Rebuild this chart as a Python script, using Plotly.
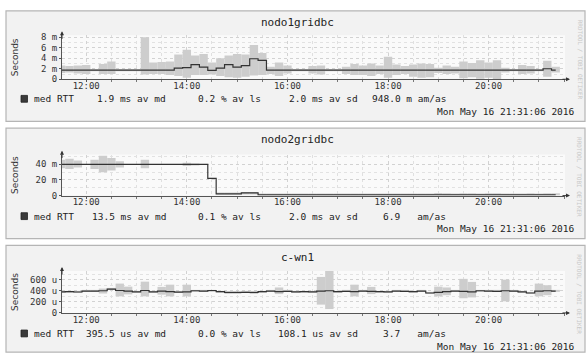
import plotly.graph_objects as go
import pandas as pd

W, H = 587, 359

# ---------------- data ----------------
# 10-minute bins (centres), 11:30 .. 21:30
times = pd.date_range("2016-05-16 11:30", periods=61, freq="10min")
t_start, t_end = "2016-05-16 11:31:06", "2016-05-16 21:31:06"

titles = ["nodo1gridbc", "nodo2gridbc", "c-wn1"]

# panel 1 (ms)
p1_med = [1.75]*14 + [2.1, 2.2, 2.8, 2.3, 1.7, 2.1, 2.8, 2.3, 2.6, 3.9, 3.6] + [1.75]*33 + [2.0, 1.75, None]
p1_lo = [1.2, 1.3, 1.1, 1.0, 1.7, 1.0, 1.0, 1.7, 1.7, 1.7, 0.9, 1.0, 1.0, 0.8, 0.6, 0.3, 0.8, 0.8, 0.9, 0.6,
         0.4, 0.3, 0.5, 0.7, 0.8, 1.0, 0.6, 1.1, 1.7, 1.7, 1.1, 0.9, 1.7, 1.7, 1.0, 0.8, 0.8, 0.6, 1.0, 0.3,
         0.8, 1.0, 0.5, 0.3, 0.4, 1.2, 1.0, 1.1, 0.2, 0.4, 0.1, 0.3, 0.0, 1.3, 1.7, 1.0, 1.1, 1.7, 0.5, 1.3, None]
p1_hi = [2.6, 2.5, 2.6, 2.7, 1.9, 2.9, 3.4, 1.9, 1.9, 1.9, 8.0, 3.2, 3.3, 3.4, 4.7, 5.6, 4.5, 4.8, 3.2, 4.0,
         4.5, 4.8, 4.7, 6.5, 5.0, 2.4, 3.2, 2.6, 1.9, 1.9, 2.5, 2.6, 1.9, 1.9, 2.4, 2.9, 2.6, 3.0, 2.6, 4.3,
         2.8, 2.5, 2.8, 3.0, 2.9, 2.2, 2.6, 2.4, 3.4, 3.1, 3.6, 3.2, 3.6, 2.2, 1.9, 2.7, 2.5, 1.9, 3.5, 2.4, None]

# panel 2 (ms)
p2_med = [40]*18 + [22, 2.2, 2.2, 2.2, 3.5, 3.5] + [1.0]*36 + [None]
p2_lo = [35, 34, 36, 40, 34, 30, 32, 36, 40, 40, 35, 40, 40, 40, 40, 38, 39, 40, 22, 1.5, 1.5, 1.5, 2.0, 2.0,
         0.5, 0.5, 0.5, 0.5, 0.5, 0.5, 0.5, 0.5, 0.5, 0.5, 0.5, 0.5, 0.5, 0.5, 0.5, 0.5, 0.5, 0.5, 0.5, 0.5,
         0.5, 0.5, 0.5, 0.5, 0.5, 0.5, 0.5, 0.5, 0.5, 0.5, 0.5, 0.5, 0.5, 0.5, 0.5, 0.5, None]
p2_hi = [46, 47, 45, 40, 46, 51, 48, 44, 40, 40, 46, 40, 40, 40, 40, 42, 41, 40, 22, 3.0, 3.0, 3.0, 4.5, 4.5,
         1.5, 1.5, 1.5, 1.5, 1.5, 1.5, 1.5, 1.5, 1.5, 1.5, 1.5, 1.5, 1.5, 1.5, 1.5, 1.5, 1.5, 1.5, 1.5, 1.5,
         1.5, 3.5, 3.0, 1.5, 3.0, 3.0, 1.5, 3.0, 3.0, 1.5, 1.5, 1.5, 3.0, 1.5, 3.0, 3.0, None]

# panel 3 (us)
p3_med = [380, 385, 378, 392, 395, 400, 430, 405, 395, 380, 405, 380, 395, 385, 375, 380, 400, 395, 405, 385,
          370, 370, 372, 370, 385, 395, 385, 390, 380, 385, 380, 395, 400, 385, 390, 385, 395, 390, 385, 380,
          395, 390, 385, 395, 360, 370, 385, 395, 390, 380, 400, 395, 390, 400, 395, 380, 360, 395, 400, 395, None]
p3_lo = [370, 375, 368, 382, 385, 350, 420, 300, 335, 370, 300, 370, 330, 300, 365, 300, 390, 385, 395, 375,
         360, 360, 362, 360, 375, 385, 340, 380, 370, 375, 370, 150, 70, 375, 380, 300, 385, 340, 375, 370,
         385, 380, 375, 385, 350, 300, 320, 385, 265, 280, 390, 385, 380, 210, 385, 370, 350, 300, 320, 385, None]
p3_hi = [390, 395, 388, 402, 405, 440, 440, 530, 475, 390, 565, 390, 470, 510, 385, 510, 410, 405, 415, 395,
         380, 380, 382, 380, 395, 405, 460, 400, 390, 395, 390, 650, 790, 395, 400, 510, 405, 470, 395, 390,
         405, 400, 395, 405, 370, 475, 460, 405, 615, 560, 410, 405, 400, 600, 405, 390, 370, 530, 500, 405, None]

p_ticks = [[0, 2, 4, 6, 8], [0, 20, 40], [0, 200, 400, 600]]
p_ticktext = [["0", "2 m", "4 m", "6 m", "8 m"], ["0", "20 m", "40 m"], ["0", "200 u", "400 u", "600 u"]]

leg_md = ["1.9 ms", "13.5 ms", "395.5 us"]
leg_ls = ["0.2", "0.1", "0.0"]
leg_sd = ["2.0 ms", "2.0 ms", "108.1 us"]
leg_amas = ["948.0 m am/as", "6.9   am/as", "3.7   am/as"]
stamp = "Mon May 16 21:31:06 2016"

# ---------------- layout geometry (pixels) ----------------
panel_top = [8, 128, 248]
panel_bot = [121, 241, 357]
plot_top = [33, 155, 274]
plot_bot = [78, 197, 317]
px_per_unit = [43 / 8, 32 / 40, 34 / 600]
minor_dt = [1, 10, 100]
XL, XR = 62, 565

MONO = "DejaVu Sans Mono"
fig = go.Figure()
shapes, annos = [], []


def py(p):
    return 1 - p / H


def px(p):
    return p / W


series = [(p1_med, p1_lo, p1_hi), (p2_med, p2_lo, p2_hi), (p3_med, p3_lo, p3_hi)]

for k in range(3):
    med, lo, hi = series[k]
    xa = "x" if k == 0 else f"x{k+1}"
    ya = "y" if k == 0 else f"y{k+1}"
    height = [(h - l) if (h is not None and l is not None) else None for h, l in zip(hi, lo)]
    fig.add_trace(go.Bar(x=times, y=height, base=lo, width=600000, marker_color="#cdcdcd",
                         marker_line_width=0, xaxis=xa, yaxis=ya, showlegend=False, hoverinfo="skip"))
    fig.add_trace(go.Scatter(x=times, y=med, mode="lines", line=dict(color="#333333", width=1.2, shape="hvh"),
                             xaxis=xa, yaxis=ya, showlegend=False))

    ytop = (plot_bot[k] - plot_top[k]) / px_per_unit[k]
    xkey = "xaxis" if k == 0 else f"xaxis{k+1}"
    ykey = "yaxis" if k == 0 else f"yaxis{k+1}"
    fig.layout[xkey] = dict(
        type="date", range=[t_start, t_end], domain=[px(XL), px(XR)], anchor=ya,
        tick0="2016-05-16 12:00", dtick=7200000, tickformat="%H:%M",
        showgrid=True, gridcolor="#d2d2d2", griddash="dot", gridwidth=1,
        showline=True, linecolor="#555555", linewidth=1, ticks="outside", ticklen=2, tickcolor="#555555",
        ticklabelstandoff=-4,
        tickfont=dict(family=MONO, size=9, color="#333333"), zeroline=False, fixedrange=True,
        minor=dict(dtick=1800000, showgrid=True, gridcolor="#e0e0e0", griddash="dot",
                   ticks="outside", ticklen=2, tickcolor="#777777"),
    )
    fig.layout[ykey] = dict(
        range=[0, ytop], domain=[py(plot_bot[k]), py(plot_top[k])], anchor=xa,
        tickvals=p_ticks[k], ticktext=p_ticktext[k], showgrid=True, gridcolor="#d2d2d2", griddash="dot",
        showline=True, linecolor="#555555", linewidth=1, ticks="outside", ticklen=2, tickcolor="#555555",
        tickfont=dict(family=MONO, size=9, color="#333333"), zeroline=False, fixedrange=True,
        minor=dict(dtick=minor_dt[k], showgrid=True, gridcolor="#e2e2e2", griddash="dot"),
    )

    # panel box and plot background
    shapes.append(dict(type="rect", xref="paper", yref="paper", x0=px(6), x1=px(585),
                       y0=py(panel_bot[k]), y1=py(panel_top[k]), fillcolor="#f2f2f2",
                       line=dict(color="#b5b5b5", width=1.2), layer="below"))
    shapes.append(dict(type="rect", xref="paper", yref="paper", x0=px(XL), x1=px(XR),
                       y0=py(plot_bot[k]), y1=py(plot_top[k]), fillcolor="#fafafa",
                       line=dict(width=0), layer="below"))
    # legend swatch
    ly = panel_top[k] + 90
    shapes.append(dict(type="rect", xref="paper", yref="paper", x0=px(21), x1=px(27.5),
                       y0=py(ly + 3.5), y1=py(ly - 3.5), fillcolor="#3a3a3a",
                       line=dict(color="#222222", width=0.8)))

    # title
    annos.append(dict(text=titles[k], x=px(298), y=py(panel_top[k] + 12), xref="paper", yref="paper",
                      showarrow=False, font=dict(family=MONO, size=11, color="#222222"),
                      xanchor="center", yanchor="middle"))
    # axis label
    annos.append(dict(text="Seconds", x=px(15), y=py((plot_top[k] + plot_bot[k]) / 2), xref="paper",
                      yref="paper", showarrow=False, textangle=-90,
                      font=dict(family="DejaVu Sans", size=9, color="#333333"),
                      xanchor="center", yanchor="middle"))
    # arrows
    annos.append(dict(x=px(570), y=py(plot_bot[k]), ax=-9, ay=0, xref="paper", yref="paper", text="",
                      showarrow=True, arrowhead=2, arrowsize=0.8, arrowwidth=1, arrowcolor="#333333"))
    annos.append(dict(x=px(XL), y=py(plot_top[k] - 4), ax=0, ay=9, xref="paper", yref="paper", text="",
                      showarrow=True, arrowhead=2, arrowsize=0.8, arrowwidth=1, arrowcolor="#333333"))
    # legend texts
    lf = dict(family=MONO, size=9.5, color="#222222")
    annos.append(dict(text="med RTT", x=px(32), y=py(ly), xref="paper", yref="paper", showarrow=False,
                      font=lf, xanchor="left", yanchor="middle"))
    annos.append(dict(text=f"{leg_md[k]} av md", x=px(168), y=py(ly), xref="paper", yref="paper",
                      showarrow=False, font=lf, xanchor="right", yanchor="middle"))
    annos.append(dict(text=f"{leg_ls[k]} % av ls", x=px(263), y=py(ly), xref="paper", yref="paper",
                      showarrow=False, font=lf, xanchor="right", yanchor="middle"))
    annos.append(dict(text=f"{leg_sd[k]} av sd", x=px(360), y=py(ly), xref="paper", yref="paper",
                      showarrow=False, font=lf, xanchor="right", yanchor="middle"))
    annos.append(dict(text=leg_amas[k].replace(" ", "&nbsp;"), x=px(448), y=py(ly), xref="paper",
                      yref="paper", showarrow=False, font=lf, xanchor="right", yanchor="middle"))
    annos.append(dict(text=stamp, x=px(577), y=py(panel_top[k] + 103), xref="paper", yref="paper",
                      showarrow=False, font=lf, xanchor="right", yanchor="middle"))
    # watermark
    annos.append(dict(text="RRDTOOL / TOBI OETIKER", x=px(580), y=py(panel_top[k] + 50), xref="paper",
                      yref="paper", showarrow=False, textangle=90,
                      font=dict(family=MONO, size=6, color="#c8c8c8"),
                      xanchor="center", yanchor="middle"))

fig.update_layout(
    width=W, height=H, margin=dict(l=0, r=0, t=0, b=0),
    paper_bgcolor="#ffffff", plot_bgcolor="rgba(0,0,0,0)",
    shapes=shapes, annotations=annos, barmode="overlay", showlegend=False,
)

fig.write_html("out.html", config={"displayModeBar": False},
               post_script="document.body.style.margin='0';document.body.style.overflow='hidden';")
